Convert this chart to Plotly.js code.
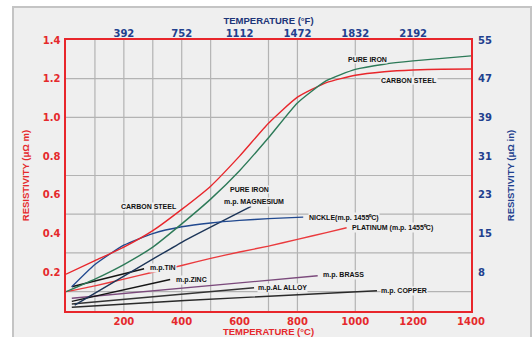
<!DOCTYPE html>
<html>
<head>
<meta charset="utf-8">
<script src="https://cdn.plot.ly/plotly-3.0.1.min.js"></script>
<style>
  html, body { margin:0; padding:0; background:#ffffff; width:532px; height:337px; overflow:hidden; }
  #frame { position:absolute; left:12px; top:6px; width:516px; height:331px; border-left:2px solid #c4c4c4; border-top:2px solid #c4c4c4; border-right:2px solid #c4c4c4; background:#efefef; }
  #chart { position:absolute; left:0; top:0; width:516px; height:329px; }
</style>
</head>
<body>
<div id="frame"><div id="chart"></div></div>
<script>
// ---- tick labels ----
const tempCTicks = [200, 400, 600, 800, 1000, 1200, 1400];
const tempFPos = [200, 400, 600, 800, 1000, 1200];
const tempFLabels = ['392', '752', '1112', '1472', '1832', '2192'];
const rhoTicks = [0.2, 0.4, 0.6, 0.8, 1.0, 1.2, 1.4];
const rhoLabels = ['0.2', '0.4', '0.6', '0.8', '1.0', '1.2', '1.4'];
const rhoInLabels = ['8', '15', '23', '31', '39', '47', '55'];
const gridC = [100, 200, 300, 400, 500, 700, 800, 1000, 1200];
const gridRho = [0.1, 0.3, 0.5, 0.7, 1.0, 1.2];

// ---- series (temperature °C, resistivity µΩ·m) ----
const carbonSteelT = [0, 100, 200, 300, 400, 500, 600, 700, 800, 900, 1000, 1100, 1200, 1300, 1400];
const carbonSteelR = [0.19, 0.26, 0.33, 0.415, 0.525, 0.645, 0.80, 0.97, 1.105, 1.18, 1.218, 1.236, 1.245, 1.249, 1.25];
const pureIronT = [0, 100, 200, 300, 400, 500, 600, 700, 800, 900, 1000, 1100, 1200, 1300, 1400];
const pureIronR = [0.10, 0.165, 0.24, 0.33, 0.45, 0.578, 0.725, 0.895, 1.075, 1.19, 1.248, 1.275, 1.292, 1.305, 1.318];
const nickelT = [20, 100, 200, 300, 400, 500, 600, 700, 820];
const nickelR = [0.125, 0.24, 0.34, 0.40, 0.435, 0.455, 0.468, 0.477, 0.485];
const magnesiumT = [30, 200, 400, 640];
const magnesiumR = [0.03, 0.18, 0.355, 0.54];
const platinumT = [0, 100, 200, 300, 400, 500, 600, 700, 800, 900, 970];
const platinumR = [0.10, 0.13, 0.165, 0.20, 0.235, 0.272, 0.305, 0.335, 0.37, 0.405, 0.43];
const tinT = [20, 270];
const tinR = [0.125, 0.218];
const zincT = [20, 360];
const zincR = [0.05, 0.163];
const brassT = [20, 870];
const brassR = [0.066, 0.182];
const alAlloyT = [20, 650];
const alAlloyR = [0.036, 0.12];
const copperT = [20, 411, 1075];
const copperR = [0.019, 0.054, 0.105];

const RED = '#e8262b';
const BLUE = '#21408e';

function line(x, y, color, extra) {
  return Object.assign({ x: x, y: y, type: 'scatter', mode: 'lines', hoverinfo: 'skip',
    line: { color: color, width: 1.4, shape: 'spline', smoothing: 0.5 } }, extra || {});
}

const traces = [
  line(copperT, copperR, '#2a2a2a'),
  line(alAlloyT, alAlloyR, '#333333'),
  line(brassT, brassR, '#7b4a7c'),
  line(zincT, zincR, '#151515'),
  line(tinT, tinR, '#151515'),
  line(platinumT, platinumR, '#ea3a3d'),
  line(magnesiumT, magnesiumR, '#1c3558'),
  line(nickelT, nickelR, '#21498f'),
  line(pureIronT, pureIronR, '#2d7a58', { xaxis: 'x2', yaxis: 'y' }),
  line(carbonSteelT, carbonSteelR, RED, { xaxis: 'x', yaxis: 'y2' })
];

const labelFont = { family: 'Liberation Sans, Arial, sans-serif', size: 7, color: '#111111', weight: 'bold' };
const labels = [
  ['PURE IRON', 971, 1.30], ['CARBON STEEL', 1085, 1.19], ['CARBON STEEL', 187, 0.54],
  ['PURE IRON', 563, 0.63], ['m.p. MAGNESIUM', 543, 0.563], ['NICKLE(m.p. 1455⁰C)', 836, 0.485],
  ['PLATINUM (m.p. 1455⁰C)', 985, 0.43], ['m.p.TIN', 287, 0.22], ['m.p.ZINC', 377, 0.162],
  ['m.p. BRASS', 885, 0.186], ['m.p.AL ALLOY', 660, 0.119], ['m.p. COPPER', 1085, 0.103]
];
const annotations = labels.map(l => ({
  text: l[0], x: l[1], y: l[2], xref: 'x', yref: 'y', showarrow: false,
  xanchor: 'left', yanchor: 'middle', font: labelFont, bgcolor: '#efefef', borderpad: 0
}));

const gridStyle = { color: '#b3b3b3', width: 1.2 };
const shapes = [];
gridC.forEach(v => shapes.push({ type: 'line', xref: 'x', yref: 'paper', x0: v, x1: v, y0: 0, y1: 1, line: gridStyle, layer: 'below' }));
gridRho.forEach(v => shapes.push({ type: 'line', xref: 'paper', yref: 'y', x0: 0, x1: 1, y0: v, y1: v, line: gridStyle, layer: 'below' }));

const tickFontRed = { family: 'DejaVu Sans, sans-serif', size: 10, color: '#e5292c', weight: 'bold' };
const tickFontBlue = { family: 'DejaVu Sans, sans-serif', size: 10, color: BLUE, weight: 'bold' };
const titleFont = (c) => ({ family: 'Liberation Sans, Arial, sans-serif', size: 9.5, color: c, weight: 'bold' });

const layout = {
  width: 516, height: 329,
  margin: { l: 52, r: 59, t: 32, b: 26, pad: 0 },
  paper_bgcolor: '#efefef', plot_bgcolor: '#efefef',
  showlegend: false,
  xaxis: {
    range: [0, 1400], tickmode: 'array', tickvals: tempCTicks, ticktext: tempCTicks.map(String),
    tickfont: tickFontRed, ticks: '', showgrid: false, zeroline: false,
    showline: true, linecolor: RED, linewidth: 1.6, mirror: true, automargin: false,
    title: { text: 'TEMPERATURE (°C)', font: titleFont('#e5292c'), standoff: 3 }
  },
  xaxis2: {
    overlaying: 'x', side: 'top', anchor: 'y', range: [0, 1400], tickmode: 'array',
    tickvals: tempFPos, ticktext: tempFLabels, tickfont: tickFontBlue, ticks: '',
    showgrid: false, zeroline: false, showline: false, automargin: false,
    title: { text: 'TEMPERATURE (°F)', font: titleFont('#1d3578'), standoff: 1 }
  },
  yaxis: {
    range: [0, 1.4], tickmode: 'array', tickvals: rhoTicks, ticktext: rhoLabels,
    tickfont: tickFontRed, ticks: '', showgrid: false, zeroline: false, ticklabelstandoff: 2,
    showline: true, linecolor: RED, linewidth: 1.6, mirror: true, automargin: false,
    title: { text: 'RESISTIVITY (μΩ m)', font: titleFont('#e5292c'), standoff: 11 }
  },
  yaxis2: {
    overlaying: 'y', side: 'right', anchor: 'x', range: [0, 1.4], tickmode: 'array',
    tickvals: rhoTicks, ticktext: rhoInLabels, tickfont: tickFontBlue, ticks: '', ticklabelstandoff: 6,
    showgrid: false, zeroline: false, showline: false, automargin: false,
    title: { text: 'RESISTIVITY (μΩ in)', font: titleFont(BLUE), standoff: 16 }
  },
  shapes: shapes,
  annotations: annotations
};

Plotly.newPlot('chart', traces, layout, { displayModeBar: false, staticPlot: true });
</script>
</body>
</html>
